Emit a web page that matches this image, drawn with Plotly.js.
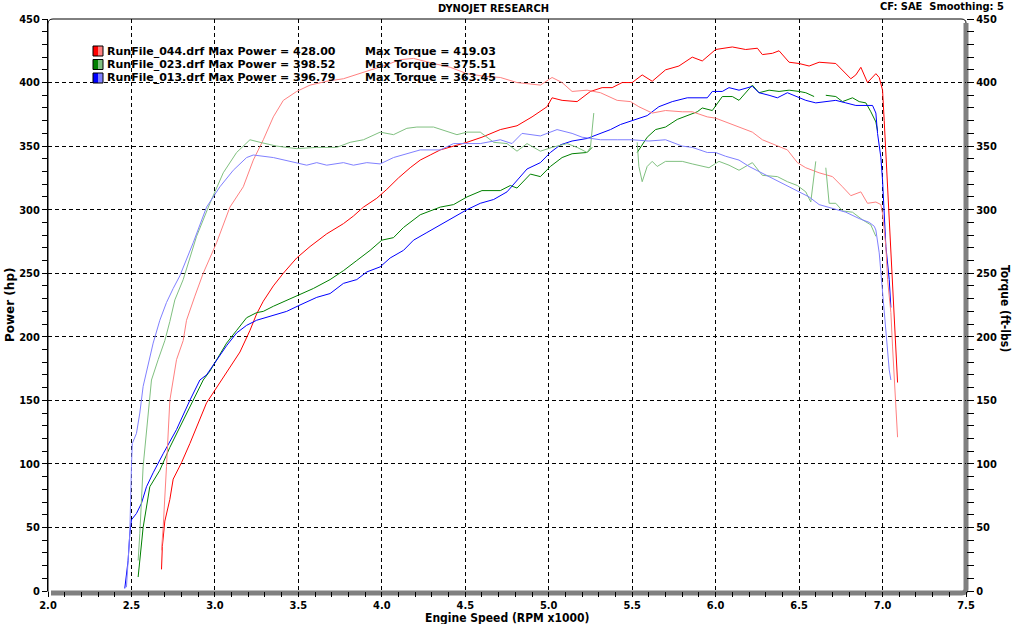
<!DOCTYPE html>
<html>
<head>
<meta charset="utf-8">
<script src="https://cdn.plot.ly/plotly-3.0.1.min.js"></script>
<style>
html,body{margin:0;padding:0;background:#fff;}
#chart{width:1014px;height:624px;}
</style>
</head>
<body>
<div id="chart"></div>
<script>
// ---------- DATA ----------
const runNames = ["RunFile_044.drf", "RunFile_023.drf", "RunFile_013.drf"];
const maxPower = ["428.00", "398.52", "396.79"];
const maxTorque = ["419.03", "375.51", "363.45"];

// Run 044 power (hp)
const rpm044hp = [2.68,2.685,2.70,2.73,2.75,2.80,2.85,2.89,2.95,3.00,3.05,3.10,3.15,3.21,3.25,3.29,3.35,3.41,3.49,3.57,3.67,3.77,3.83,3.89,3.97,4.03,4.10,4.17,4.23,4.29,4.35,4.43,4.51,4.60,4.71,4.81,4.90,4.99,5.02,5.08,5.17,5.25,5.32,5.38,5.44,5.50,5.56,5.62,5.70,5.78,5.86,5.92,6.00,6.10,6.18,6.25,6.28,6.34,6.38,6.44,6.50,6.56,6.62,6.72,6.76,6.81,6.84,6.87,6.91,6.96,6.98,7.00,7.01,7.02,7.03,7.04,7.05,7.06,7.07,7.08,7.09];
const hp044 = [17,35,55,72,88,101,116,129,148,158,168,178,188,205,218,228,240,250,262,271,281,289,295,302,309,316,325,333,339,343,347,350,353,357,363,366,373,381,388,386,385,393,396,396,400,400,406,401,410,413,420,417,426,428,426,427,422,423,425,416,415,413,416,415,410,403,406,412,400,407,404,394,370,345,320,298,270,245,218,190,164];

// Run 044 torque (ft-lbs)
const rpm044tq = [2.68,2.69,2.71,2.73,2.75,2.77,2.81,2.83,2.88,2.93,3.01,3.09,3.17,3.23,3.29,3.35,3.41,3.49,3.57,3.67,3.77,3.89,4.03,4.11,4.19,4.31,4.41,4.51,4.61,4.71,4.81,4.95,5.02,5.08,5.14,5.23,5.31,5.41,5.49,5.54,5.62,5.70,5.80,5.86,5.95,6.00,6.08,6.16,6.22,6.28,6.37,6.43,6.49,6.54,6.62,6.70,6.76,6.81,6.87,6.91,6.96,6.99,7.00,7.02,7.03,7.05,7.06,7.07,7.08,7.09];
const tq044 = [32,50,98,150,166,182,197,213,232,250,274,302,318,339,355,373,386,393,398,401,403,408,414,418,419,415,412,407,405,404,400,398,404,400,393,394,392,386,385,381,376,378,377,377,373,372,368,364,361,355,350,347,337,333,329,326,318,311,314,305,306,304,297,271,245,219,192,166,140,121];

// Run 023 power (hp) - null = data dropout
const rpm023hp = [2.54,2.55,2.57,2.61,2.67,2.73,2.79,2.87,2.93,2.97,3.01,3.07,3.13,3.19,3.25,3.29,3.35,3.42,3.49,3.59,3.69,3.77,3.85,3.93,4.00,4.07,4.13,4.23,4.35,4.43,4.51,4.60,4.71,4.77,4.81,4.89,4.95,5.01,5.08,5.14,5.23,5.26,5.40,5.53,5.59,5.64,5.70,5.77,5.83,5.89,5.92,5.98,6.04,6.10,6.14,6.22,6.26,6.32,6.38,6.44,6.50,6.54,6.59,6.63,6.66,6.72,6.76,6.82,6.86,6.90,6.93,6.96,6.97];
const hp023 = [11,24,50,82,95,113,129,150,166,173,182,195,205,215,219,220,224,228,232,238,245,252,260,268,276,278,286,296,302,304,310,315,315,319,317,328,326,334,341,344,345,349,null,345,357,363,365,371,374,377,380,378,389,389,386,398,392,394,393,394,393,392,389,null,390,389,385,388,385,384,377,369,362];

// Run 023 torque (ft-lbs)
const rpm023tq = [2.54,2.55,2.57,2.59,2.61,2.62,2.66,2.70,2.73,2.76,2.81,2.89,2.97,3.05,3.13,3.21,3.27,3.37,3.49,3.61,3.73,3.81,3.89,3.99,4.07,4.15,4.21,4.31,4.45,4.51,4.59,4.67,4.75,4.81,4.87,4.95,5.02,5.11,5.17,5.23,5.25,5.27,5.40,5.53,5.54,5.56,5.59,5.62,5.65,5.70,5.80,5.86,5.96,6.02,6.08,6.14,6.22,6.28,6.37,6.43,6.49,6.54,6.57,6.60,6.63,6.66,6.68,6.72,6.76,6.82,6.88,6.93,6.96];
const tq023 = [24,45,98,124,150,166,182,197,212,229,245,279,305,329,345,355,353,350,348,349,349,353,355,361,359,364,365,365,359,361,361,353,352,346,352,346,349,352,349,345,349,376,null,353,334,322,334,338,334,338,338,336,333,338,335,331,337,327,326,322,319,314,306,338,null,333,305,305,299,298,292,288,279];

// Run 013 power (hp)
const rpm013hp = [2.46,2.48,2.49,2.50,2.53,2.56,2.59,2.63,2.69,2.77,2.85,2.91,2.95,3.01,3.07,3.13,3.19,3.25,3.33,3.43,3.51,3.61,3.69,3.77,3.85,3.91,3.99,4.05,4.13,4.19,4.27,4.31,4.43,4.51,4.59,4.67,4.75,4.81,4.87,4.95,5.01,5.07,5.14,5.23,5.29,5.37,5.43,5.50,5.59,5.66,5.74,5.83,5.90,5.95,5.98,6.04,6.08,6.14,6.22,6.26,6.32,6.37,6.43,6.49,6.54,6.60,6.66,6.72,6.78,6.84,6.94,6.96,6.97,6.99,7.00,7.01,7.02,7.04,7.05];
const hp013 = [2,24,45,56,61,69,82,93,108,127,150,166,170,182,193,203,209,213,216,220,225,231,234,242,245,251,255,262,268,276,282,285,294,300,305,308,314,323,332,337,345,351,354,356,359,363,367,370,374,381,385,388,388,388,393,393,396,394,397,392,390,388,392,389,386,384,385,386,384,382,382,376,360,341,323,297,271,245,223];

// Run 013 torque (ft-lbs)
const rpm013tq = [2.47,2.49,2.50,2.505,2.53,2.55,2.57,2.59,2.63,2.67,2.71,2.75,2.79,2.87,2.95,3.03,3.11,3.19,3.23,3.35,3.45,3.55,3.61,3.67,3.77,3.83,3.91,3.99,4.07,4.17,4.23,4.35,4.43,4.51,4.59,4.71,4.78,4.84,4.95,5.05,5.14,5.20,5.31,5.41,5.50,5.60,5.70,5.80,5.86,5.95,6.00,6.06,6.14,6.20,6.26,6.32,6.38,6.44,6.50,6.56,6.62,6.70,6.78,6.86,6.92,6.95,6.96,6.98,6.99,7.00,7.01,7.02,7.03,7.04,7.05];
const tq013 = [3,45,98,116,124,140,161,172,195,213,227,238,248,274,302,318,331,341,343,341,338,335,337,335,337,335,337,336,341,345,347,347,352,352,352,355,352,360,358,363,360,357,355,355,355,354,355,350,349,345,345,342,339,334,330,326,322,318,314,310,304,301,298,293,290,287,284,266,250,232,219,203,187,174,166];

const xTicks = [2.0,2.5,3.0,3.5,4.0,4.5,5.0,5.5,6.0,6.5,7.0,7.5];
const yTicks = [0,50,100,150,200,250,300,350,400,450];

// ---------- STYLE ----------
const darkCol = ["#ff0000", "#008000", "#0000ff"];
const lightCol = ["#ff8080", "#80c080", "#8080ff"];
const FONT_B = "DejaVu Sans, Verdana, sans-serif";
const FONT_C = "DejaVu Sans Condensed, DejaVu Sans, sans-serif";

const W = 1014, H = 624, L = 48, R = 48, T = 19, B = 33;
const PW = W - L - R, PH = H - T - B;
const px = x => (x - L) / PW;
const py = y => (H - B - y) / PH;

function line(x, y, color, yaxis) {
  return {x: x, y: y, type: "scatter", mode: "lines", yaxis: yaxis,
          line: {color: color, width: 1, shape: "linear"},
          connectgaps: false, hoverinfo: "skip", showlegend: false};
}

const traces = [
  line(rpm044tq, tq044, lightCol[0], "y2"),
  line(rpm023tq, tq023, lightCol[1], "y2"),
  line(rpm013tq, tq013, lightCol[2], "y2"),
  line(rpm044hp, hp044, darkCol[0], "y"),
  line(rpm023hp, hp023, darkCol[1], "y"),
  line(rpm013hp, hp013, darkCol[2], "y")
];

const shapes = [];
const annotations = [];

// frame: black top/left with rounded corners
shapes.push({type: "path", xref: "paper", yref: "paper", layer: "above",
  path: `M ${px(48)} ${py(592)} L ${px(48)} ${py(24)} Q ${px(48)} ${py(19)} ${px(53)} ${py(19)} L ${px(961)} ${py(19)} Q ${px(966)} ${py(19)} ${px(966)} ${py(23)}`,
  line: {color: "#000", width: 1}});
// gray bottom/right band
shapes.push({type: "path", xref: "paper", yref: "paper", layer: "below",
  path: `M ${px(51)} ${py(593)} L ${px(962)} ${py(593)} Q ${px(966)} ${py(593)} ${px(966)} ${py(589)} L ${px(966)} ${py(23)}`,
  line: {color: "#808080", width: 5}});

// legend
const rows = [51, 64.5, 78];
for (let i = 0; i < 3; i++) {
  const c = rows[i];
  shapes.push({type: "rect", xref: "paper", yref: "paper", layer: "above",
    x0: px(93), x1: px(98), y0: py(c + 5), y1: py(c - 5),
    fillcolor: darkCol[i], line: {width: 0}});
  shapes.push({type: "rect", xref: "paper", yref: "paper", layer: "above",
    x0: px(98), x1: px(103), y0: py(c + 5), y1: py(c - 5),
    fillcolor: lightCol[i], line: {width: 0}});
  shapes.push({type: "rect", xref: "paper", yref: "paper", layer: "above",
    x0: px(93), x1: px(103), y0: py(c + 5), y1: py(c - 5),
    fillcolor: "rgba(0,0,0,0)", line: {color: "#000", width: 1}});
  annotations.push({xref: "paper", yref: "paper", x: px(105), y: py(c),
    xanchor: "left", yanchor: "middle", showarrow: false,
    text: runNames[i] + " Max Power = " + maxPower[i],
    font: {family: FONT_B, size: 11, color: "#000", weight: "bold"}});
  annotations.push({xref: "paper", yref: "paper", x: px(363), y: py(c),
    xanchor: "left", yanchor: "middle", showarrow: false,
    text: "Max Torque = " + maxTorque[i],
    font: {family: FONT_B, size: 11, color: "#000", weight: "bold"}});
}

// titles
annotations.push({xref: "paper", yref: "paper", x: px(493), y: py(9),
  xanchor: "center", yanchor: "middle", showarrow: false, text: "DYNOJET RESEARCH",
  font: {family: FONT_C, size: 11, color: "#000", weight: "bold"}});
annotations.push({xref: "paper", yref: "paper", x: px(1006), y: py(7),
  xanchor: "right", yanchor: "middle", showarrow: false, text: "CF: SAE&nbsp;&nbsp;Smoothing: 5",
  font: {family: FONT_C, size: 11, color: "#000", weight: "bold"}});
annotations.push({xref: "paper", yref: "paper", x: px(507), y: py(617.5),
  xanchor: "center", yanchor: "middle", showarrow: false, text: "Engine Speed (RPM x1000)",
  font: {family: FONT_C, size: 12, color: "#000", weight: "bold"}});
annotations.push({xref: "paper", yref: "paper", x: px(10), y: py(305),
  xanchor: "center", yanchor: "middle", showarrow: false, text: "Power (hp)", textangle: -90,
  font: {family: FONT_B, size: 12, color: "#000", weight: "bold"}});
annotations.push({xref: "paper", yref: "paper", x: px(1005), y: py(308),
  xanchor: "center", yanchor: "middle", showarrow: false, text: "Torque (ft-lbs)", textangle: 90,
  font: {family: FONT_C, size: 12, color: "#000", weight: "bold"}});

const gridStyle = {showgrid: true, gridcolor: "#000", gridwidth: 1, griddash: "4px,3px"};

const layout = {
  width: W, height: H,
  margin: {l: L, r: R, t: T, b: B, pad: 0},
  paper_bgcolor: "#fff", plot_bgcolor: "#fff",
  showlegend: false,
  xaxis: Object.assign({
    range: [2, 7.5], tickmode: "array", tickvals: xTicks, tickformat: ".1f",
    ticks: "outside", ticklen: 5, tickcolor: "#000", tickwidth: 1, ticklabelstandoff: -1,
    minor: {dtick: 0.1, tick0: 2, ticks: "outside", ticklen: 5, tickcolor: "#000", showgrid: false},
    showline: false, zeroline: false, fixedrange: true,
    tickfont: {family: FONT_C, size: 11, color: "#000", weight: "bold"}
  }, gridStyle),
  yaxis: Object.assign({
    range: [0, 450], tickmode: "array", tickvals: yTicks,
    ticks: "outside", ticklen: 5, tickcolor: "#000", tickwidth: 1,
    minor: {dtick: 10, tick0: 0, ticks: "outside", ticklen: 5, tickcolor: "#000", showgrid: false},
    showline: true, linecolor: "#000", linewidth: 1, zeroline: false, fixedrange: true,
    tickfont: {family: FONT_C, size: 11, color: "#000", weight: "bold"}
  }, gridStyle),
  yaxis2: {
    range: [0, 450], overlaying: "y", side: "right", tickmode: "array", tickvals: yTicks,
    ticks: "outside", ticklen: 7, tickcolor: "#000", tickwidth: 1,
    minor: {dtick: 10, tick0: 0, ticks: "outside", ticklen: 7, tickcolor: "#000", showgrid: false},
    showgrid: false, showline: false, zeroline: false, fixedrange: true,
    tickfont: {family: FONT_C, size: 11, color: "#000", weight: "bold"}
  },
  shapes: shapes,
  annotations: annotations
};

Plotly.newPlot("chart", traces, layout, {displayModeBar: false, staticPlot: true});
</script>
</body>
</html>
